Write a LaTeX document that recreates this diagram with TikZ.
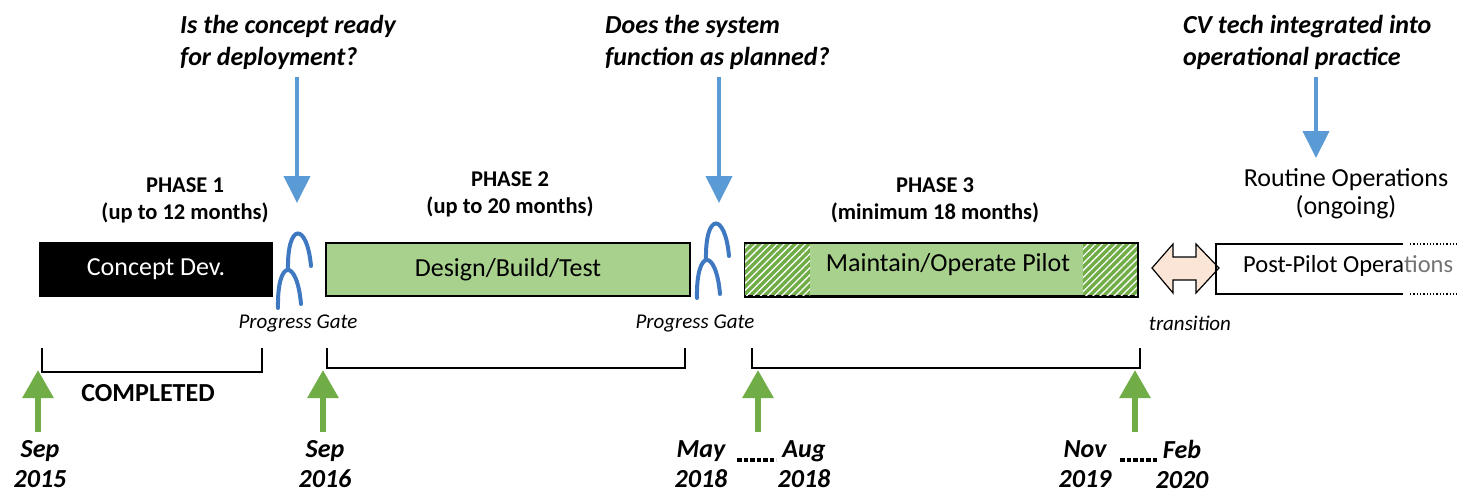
\documentclass[tikz,border=0pt]{standalone}
\usepackage{fontspec}
\setmainfont{Carlito}
\usepackage{tikz}
\usetikzlibrary{arrows.meta}
\usetikzlibrary{patterns.meta}
\definecolor{ColGreen}{RGB}{169,209,142}
\definecolor{ColHatch}{RGB}{112,173,71}
\definecolor{ColBlue}{RGB}{91,155,213}
\definecolor{ColGate}{RGB}{62,120,192}
\definecolor{ColPeach}{RGB}{251,229,214}
\tikzstyle{PhaseBox}=[draw=black,line width=1.5pt,minimum height=53pt,inner sep=0pt,
font=\fontsize{26}{30}\selectfont]
\tikzstyle{Title}=[align=center,font=\bfseries\fontsize{22.5}{27}\selectfont]
\tikzstyle{Question}=[inner sep=0pt,align=left,anchor=north west,
font=\bfseries\itshape\fontsize{26}{32}\selectfont]
\tikzstyle{DateText}=[align=center,font=\bfseries\itshape\fontsize{26}{30}\selectfont]
\tikzstyle{SmallNote}=[font=\itshape\fontsize{21}{24}\selectfont]
\tikzstyle{BlueArrow}=[ColBlue,line width=4pt,-{Triangle[width=26pt,length=27pt]}]
\tikzstyle{GreenArrow}=[ColHatch,line width=6pt,-{Triangle[width=30pt,length=28pt]}]
\tikzstyle{GateArc}=[ColGate,line width=4pt,line cap=round]
\tikzstyle{Bracket}=[black,line width=2pt]
\begin{document}
\begin{tikzpicture}[x=1pt,y=-1pt]
        \useasboundingbox(0,0)rectangle(1470,498);
        % phase boxes
        \node[PhaseBox,fill=black,text=white,minimum width=232pt](concept)at(156,269.5){Concept Dev.};
        \node[PhaseBox,fill=ColGreen,minimum width=364pt](design)at(508,269.5){Design/Build/Test};
        \node[PhaseBox,fill=ColGreen,minimum width=392pt](pilot)at(941,269.5){};
        \fill[ColHatch](745,244)rectangle(810,295);
        \fill[ColHatch](1083,244)rectangle(1137,295);
        \fill[pattern={Lines[angle=45,distance=5pt,line width=1.3pt]},pattern color=white]
            (745,244)rectangle(810,295);
        \fill[pattern={Lines[angle=45,distance=5pt,line width=1.3pt]},pattern color=white]
            (1083,244)rectangle(1137,295);
        \draw[black,line width=1.5pt](pilot.south west)rectangle(pilot.north east);
        \node[font=\fontsize{26}{30}\selectfont](pilottext)at(948,265){Maintain/Operate Pilot};
        % transition arrow and post-pilot box
        \draw[black,line width=1.2pt,fill=ColPeach](1152,268)--(1173,244)--(1173,257)--(1196,257)
            --(1196,244)--(1219,268)--(1196,293)--(1196,280)--(1173,280)--(1173,293)--cycle;
        \coordinate(pp-nw)at(1216,244);
        \coordinate(pp-sw)at(1216,294);
        \draw[black,line width=1.3pt](1403,244)--(pp-nw)--(pp-sw)--(1403,294);
        \draw[black,line width=1.3pt,dotted](1410,244)--(1457,244);
        \draw[black,line width=1.3pt,dotted](1410,294)--(1457,294);
        \node[font=\fontsize{24.5}{30}\selectfont,inner sep=0pt,anchor=west](post)at(1243,266)
            {Post-Pilot Opera\textcolor{black!55}{tions}};
        % titles
        \node[Title](t1)at(185,200){PHASE 1\\(up to 12 months)};
        \node[Title](t2)at(510,194){PHASE 2\\(up to 20 months)};
        \node[Title](t3)at(935,200){PHASE 3\\(minimum 18 months)};
        \node[align=center,font=\fontsize{26}{28}\selectfont](t4)at(1346,194){Routine Operations\\(ongoing)};
        % questions
        \node[Question](q1)at(180,15){Is the concept ready\\for deployment?};
        \node[Question](q2)at(605,15){Does the system\\function as planned?};
        \node[Question](q3)at(1183,15){CV tech integrated into\\operational practice};
        \coordinate(g1)at(297,203);
        \coordinate(g2)at(719,203);
        \coordinate(g3)at(1316,158);
        \draw[BlueArrow](297,77)--(g1);
        \draw[BlueArrow](719,77)--(g2);
        \draw[BlueArrow](1316,77)--(g3);
        % progress gates
        \draw[GateArc](288,270)..controls(287,222)and(307,222)..(311,266);
        \draw[GateArc](278,308)..controls(277,258)and(297,258)..(301,304);
        \draw[GateArc](706,260)..controls(705,212)and(725,212)..(729,256);
        \draw[GateArc](697,298)..controls(696,248)and(716,248)..(720,294);
        \node[SmallNote](pg1)at(298,323){Progress Gate};
        \node[SmallNote](pg2)at(695,323){Progress Gate};
        \node[SmallNote](tr)at(1190,323){transition};
        % brackets
        \draw[Bracket](42,348)--(42,372)--(262,372)--(262,348);
        \draw[Bracket](327,348)--(327,368)--(685,368)--(685,348);
        \draw[Bracket](752,348)--(752,368)--(1140,368)--(1140,348);
        \node[font=\bfseries\fontsize{26}{30}\selectfont](done)at(148,393){COMPLETED};
        % dates
        \node[DateText](d1)at(40,464){Sep\\2015};
        \node[DateText](d2)at(325,464){Sep\\2016};
        \node[DateText](d3)at(701,464){May\\2018};
        \node[DateText](d4)at(804,464){Aug\\2018};
        \node[DateText](d5)at(1085,464){Nov\\2019};
        \node[DateText](d6)at(1182,464){Feb\\2020};
        \draw[black,line width=4.5pt,dotted](737,460)--(776,460);
        \draw[black,line width=4.5pt,dotted](1120,460)--(1159,460);
        \coordinate(a1)at(38,370);
        \coordinate(a2)at(323,370);
        \coordinate(a3)at(758,370);
        \coordinate(a4)at(1135,370);
        \draw[GreenArrow](38,432)--(a1);
        \draw[GreenArrow](323,432)--(a2);
        \draw[GreenArrow](758,432)--(a3);
        \draw[GreenArrow](1135,432)--(a4);
    \end{tikzpicture}
\end{document}
